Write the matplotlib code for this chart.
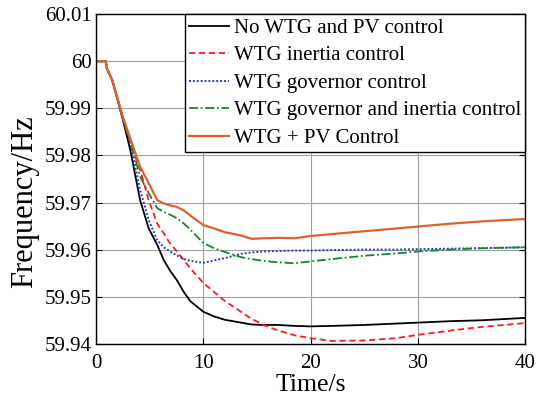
import numpy as np
import matplotlib
matplotlib.use('Agg')
from matplotlib import pyplot as plt

plt.rcParams['font.family'] = ['Liberation Serif', 'DejaVu Serif']

# time axis (s)
t = [0, 0.9, 1.0, 1.5, 2.5, 3.2, 4.1, 4.9, 5.7, 6.3, 6.9, 7.5, 8.2, 8.8, 10,
     11, 12, 13.5, 14.5, 15.6, 17, 18.5, 20, 22, 25, 28, 30, 33, 36, 40]

f_none = [60, 60, 59.9985, 59.996, 59.9875, 59.981, 59.9705, 59.9645, 59.961,
          59.9578, 59.9555, 59.9536, 59.9509, 59.949, 59.9468, 59.9458, 59.9451,
          59.9445, 59.9441, 59.944, 59.944, 59.9438, 59.9437, 59.9438, 59.944,
          59.9443, 59.9445, 59.9448, 59.945, 59.9455]
f_inertia = [60, 60, 59.9985, 59.996, 59.9878, 59.9825, 59.977, 59.9705, 59.9655,
             59.9635, 59.9613, 59.9597, 59.9577, 59.956, 59.9529, 59.951, 59.9491,
             59.9468, 59.9453, 59.944, 59.9428, 59.9418, 59.9412, 59.9406, 59.9407,
             59.9412, 59.9419, 59.9428, 59.9436, 59.9444]
f_governor = [60, 60, 59.9985, 59.996, 59.9878, 59.9825, 59.9727, 59.9663, 59.962,
              59.9605, 59.9596, 59.9588, 59.958, 59.9576, 59.9572, 59.9577, 59.9582,
              59.9591, 59.9594, 59.9596, 59.9597, 59.9598, 59.9598, 59.9599, 59.96,
              59.96, 59.9601, 59.9602, 59.9603, 59.9605]
f_gov_inertia = [60, 60, 59.9985, 59.996, 59.988, 59.983, 59.9755, 59.972, 59.9688,
                 59.968, 59.9674, 59.9667, 59.9655, 59.9642, 59.9614, 59.9603, 59.9595,
                 59.9584, 59.958, 59.9576, 59.9573, 59.9571, 59.9575, 59.958, 59.9587,
                 59.9592, 59.9596, 59.96, 59.9603, 59.9605]
f_wtg_pv = [60, 60, 59.9985, 59.996, 59.9882, 59.9835, 59.9776, 59.9741, 59.9705,
            59.9698, 59.9694, 59.9691, 59.9683, 59.9672, 59.9652, 59.9645, 59.9637,
            59.963, 59.9623, 59.9624, 59.9625, 59.9624, 59.9629, 59.9633, 59.9639,
            59.9645, 59.9649, 59.9655, 59.966, 59.9665]

labels = ['No WTG and PV control', 'WTG inertia control', 'WTG governor control',
          'WTG governor and inertia control', 'WTG + PV Control']
xticks = [0, 10, 20, 30, 40]
yticks = [59.94, 59.95, 59.96, 59.97, 59.98, 59.99, 60.0, 60.01]
ytick_labels = ['59.94', '59.95', '59.96', '59.97', '59.98', '59.99', '60', '60.01']

fig = plt.figure(figsize=(5.37, 4.04), dpi=100)
ax = fig.add_axes([0.179, 0.149, 0.799, 0.816])

ax.plot(t, f_none, color='black', lw=1.3, ls='-', label=labels[0])
ax.plot(t, f_inertia, color='#ff1a1a', lw=1.3, ls=(0, (3.5, 2)), label=labels[1])
ax.plot(t, f_governor, color='#2a3db8', lw=1.4, ls=(0, (1, 1)), label=labels[2])
ax.plot(t, f_gov_inertia, color='#10882a', lw=1.3, ls=(0, (5, 1.5, 1, 1.5)), label=labels[3])
ax.plot(t, f_wtg_pv, color='#e0602a', lw=1.6, ls='-', label=labels[4])

ax.set_xlim(0, 40)
ax.set_ylim(59.94, 60.01)
ax.set_xticks(xticks)
ax.set_yticks(yticks)
ax.set_yticklabels(ytick_labels)
ax.tick_params(direction='in', top=True, right=True, labelsize=15, length=4, pad=3)
ax.tick_params(axis='x', pad=7)
ax.grid(True, color='#a0a0a0', lw=0.8)
for s in ax.spines.values():
    s.set_linewidth(1.0)

ax.set_xlabel('Time/s', fontsize=18.5, labelpad=1)
ax.set_ylabel('Frequency/Hz', fontsize=22)
ax.yaxis.set_label_coords(-0.132, 0.43)

leg = ax.legend(loc='upper right', fontsize=15, fancybox=False, framealpha=1,
                edgecolor='black', borderaxespad=0, handlelength=1.9,
                labelspacing=0.38, borderpad=0.2, handletextpad=0.25)
leg.get_frame().set_linewidth(1.0)

plt.savefig('out.png', dpi=100)
